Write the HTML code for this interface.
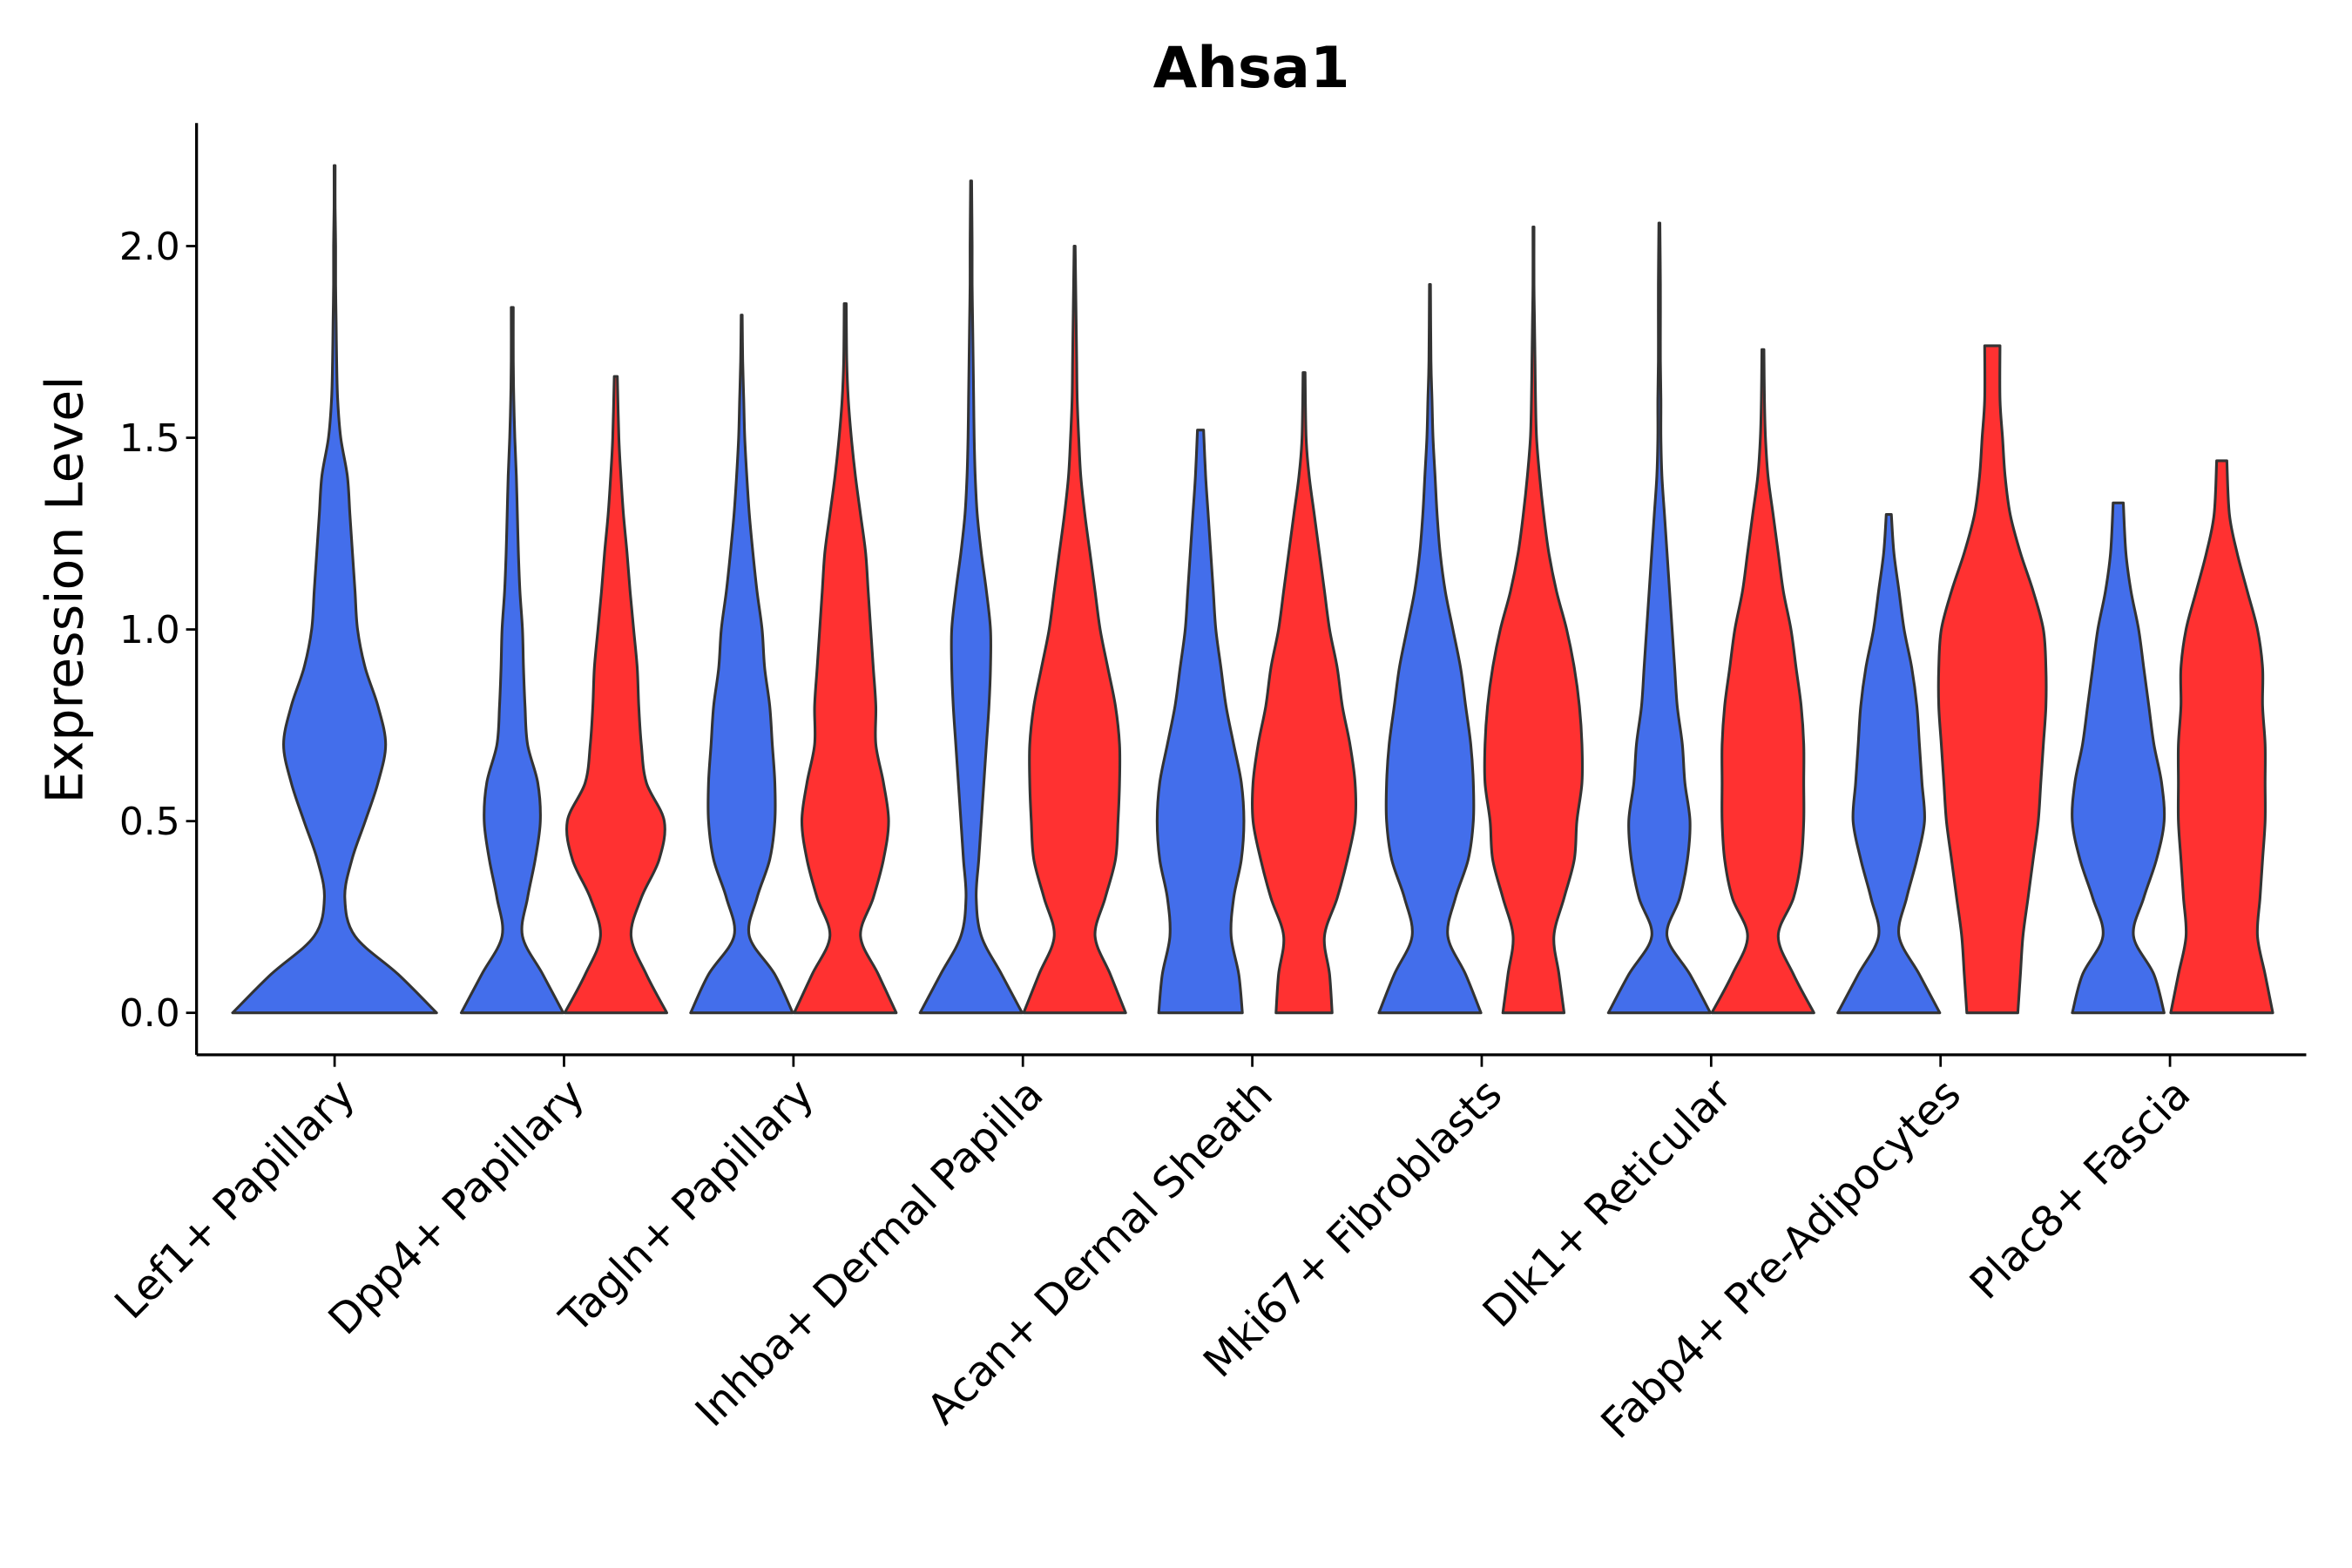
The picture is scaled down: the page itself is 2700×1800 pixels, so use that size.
<!DOCTYPE html>
<html><head><meta charset="utf-8"><style>
html,body{margin:0;padding:0;background:#fff;}
svg{display:block;font-family:"DejaVu Sans","Liberation Sans",sans-serif;}
</style></head><body>
<svg id="chart" width="2700" height="1800" viewBox="0 0 1567.5 1045" xmlns="http://www.w3.org/2000/svg">
<rect width="1570" height="1050" fill="#fff"/>
<text x="834" y="58" text-anchor="middle" font-size="38" font-weight="bold">Ahsa1</text>
<text transform="translate(55,393) rotate(-90)" text-anchor="middle" font-size="34">Expression Level</text>
<g id="plot"></g>
</svg>
<script>
const categories = ["Lef1+ Papillary","Dpp4+ Papillary","Tagln+ Papillary","Inhba+ Dermal Papilla","Acan+ Dermal Sheath","Mki67+ Fibroblasts","Dlk1+ Reticular","Fabp4+ Pre-Adipocytes","Plac8+ Fascia"];
const yTicks = [0,0.5,1,1.5,2];
const yTickLabels = ["0.0","0.5","1.0","1.5","2.0"];
const violinCategory = [0,1,1,2,2,3,3,4,4,5,5,6,6,7,7,8,8];
const violinGroup    = [-1,0,1,0,1,0,1,0,1,0,1,0,1,0,1,0,1];
const violinMax = [2.21,1.84,1.66,1.82,1.85,2.17,2.0,1.52,1.67,1.9,2.05,2.06,1.73,1.3,1.74,1.33,1.44];
const violinWidths = [
 [2.0,1.25,0.4,0.2,0.34,0.6,0.85,1.0,0.85,0.6,0.45,0.4,0.35,0.3,0.25,0.12,0.06,0.04,0.03,0.02,0.02,0.01,0.01],
 [1.0,0.6,0.2,0.3,0.45,0.55,0.5,0.3,0.25,0.22,0.2,0.15,0.12,0.1,0.08,0.05,0.03,0.02,0.02],
 [1.0,0.6,0.3,0.5,0.85,0.95,0.6,0.5,0.45,0.42,0.35,0.28,0.22,0.15,0.1,0.06,0.03],
 [1.0,0.65,0.15,0.3,0.55,0.65,0.65,0.6,0.55,0.45,0.4,0.3,0.22,0.15,0.1,0.06,0.04,0.02,0.01],
 [1.0,0.65,0.3,0.55,0.75,0.85,0.75,0.6,0.6,0.55,0.5,0.45,0.4,0.3,0.2,0.12,0.06,0.03,0.02],
 [1.0,0.6,0.2,0.1,0.15,0.2,0.25,0.3,0.35,0.38,0.38,0.3,0.2,0.12,0.08,0.06,0.05,0.04,0.03,0.02,0.02,0.01],
 [1.0,0.7,0.4,0.6,0.8,0.85,0.88,0.88,0.8,0.65,0.5,0.4,0.3,0.2,0.12,0.08,0.05,0.04,0.03,0.02,0.01],
 [0.82,0.75,0.6,0.65,0.8,0.85,0.8,0.65,0.5,0.4,0.3,0.25,0.2,0.15,0.1,0.06],
 [0.55,0.5,0.4,0.65,0.85,1.0,1.0,0.9,0.75,0.65,0.5,0.4,0.3,0.2,0.1,0.04,0.02],
 [1.0,0.7,0.35,0.5,0.75,0.85,0.85,0.8,0.7,0.6,0.45,0.3,0.2,0.14,0.1,0.06,0.04,0.02,0.01],
 [0.6,0.5,0.4,0.6,0.8,0.85,0.95,0.95,0.9,0.8,0.65,0.45,0.3,0.2,0.12,0.06,0.04,0.03,0.02,0.01,0.01],
 [1.0,0.6,0.15,0.4,0.55,0.6,0.5,0.45,0.35,0.3,0.25,0.2,0.15,0.1,0.05,0.03,0.03,0.02,0.02,0.02,0.01],
 [1.0,0.6,0.3,0.6,0.75,0.8,0.8,0.8,0.75,0.65,0.55,0.4,0.3,0.2,0.1,0.05,0.03,0.02],
 [1.0,0.6,0.2,0.35,0.55,0.7,0.65,0.6,0.55,0.45,0.3,0.2,0.1,0.05],
 [0.5,0.55,0.6,0.7,0.8,0.9,0.95,1.0,1.05,1.05,1.0,0.8,0.55,0.35,0.25,0.2,0.15,0.15],
 [0.9,0.7,0.3,0.5,0.75,0.9,0.85,0.7,0.6,0.5,0.4,0.25,0.15,0.1],
 [1.0,0.85,0.7,0.75,0.8,0.85,0.85,0.85,0.8,0.8,0.7,0.5,0.3,0.15,0.1]
];
const colors = ["#436EEB","#FF3131"];

const NS="http://www.w3.org/2000/svg";
const plot=document.getElementById('plot');
const X0=131, X1=1537, Ytop=82, Ybot=703;
function yScale(v){return 675 - v*255.5;}
function xScale(i){return 223 + i*152.9;}
const HALF=34;
function mk(tag,attrs){const e=document.createElementNS(NS,tag);for(const k in attrs)e.setAttribute(k,attrs[k]);plot.appendChild(e);return e;}

function catmull(pts){
  let d="M"+pts[0][0].toFixed(2)+","+pts[0][1].toFixed(2);
  for(let i=0;i<pts.length-1;i++){
    const p0=pts[Math.max(0,i-1)],p1=pts[i],p2=pts[i+1],p3=pts[Math.min(pts.length-1,i+2)];
    const c1=[p1[0]+(p2[0]-p0[0])/6,p1[1]+(p2[1]-p0[1])/6];
    const c2=[p2[0]-(p3[0]-p1[0])/6,p2[1]-(p3[1]-p1[1])/6];
    d+="C"+c1[0].toFixed(2)+","+c1[1].toFixed(2)+" "+c2[0].toFixed(2)+","+c2[1].toFixed(2)+" "+p2[0].toFixed(2)+","+p2[1].toFixed(2);
  }
  return d;
}

violinWidths.forEach((w,k)=>{
  const cx = xScale(violinCategory[k]) + (violinGroup[k]<0?0:(violinGroup[k]===0?-34.5:34.5));
  const n=w.length, ymax=violinMax[k];
  const ys=w.map((_,i)=> i<n-1 ? Math.min(i*0.1,ymax) : ymax);
  const right=w.map((v,i)=>[cx+v*HALF, yScale(ys[i])]);
  const left=w.map((v,i)=>[cx-v*HALF, yScale(ys[i])]).reverse();
  let d=catmull(right);
  const l=catmull(left);
  d+="L"+l.slice(1)+"Z";
  const p=mk('path',{d:d,fill:colors[violinGroup[k]<0?0:violinGroup[k]],stroke:"#333",'stroke-width':1.8,'stroke-linejoin':'round'});
  
  
});

const ya=mk('line',{x1:X0,y1:Ytop,x2:X0,y2:Ybot,stroke:"#000",'stroke-width':1.9});


const xa=mk('line',{x1:X0,y1:Ybot,x2:X1,y2:Ybot,stroke:"#000",'stroke-width':1.9});



yTicks.forEach((t,i)=>{
  const y=yScale(t);
  const tk=mk('line',{x1:X0-7,y1:y,x2:X0,y2:y,stroke:"#000",'stroke-width':1.6});
  
  
  const tx=mk('text',{x:X0-11,y:y+9,'text-anchor':'end','font-size':25.5,fill:'#000'});
  tx.textContent=yTickLabels[i];
  
  
});
categories.forEach((c,i)=>{
  const x=xScale(i);
  const tk=mk('line',{x1:x,y1:Ybot,x2:x,y2:Ybot+8,stroke:"#000",'stroke-width':1.6});
  
  
  const tx=mk('text',{transform:'translate('+(x+15)+','+(Ybot+28)+') rotate(-45)','text-anchor':'end','font-size':28,fill:'#000'});
  tx.textContent=c;
  
  
});
</script>
</body></html>
